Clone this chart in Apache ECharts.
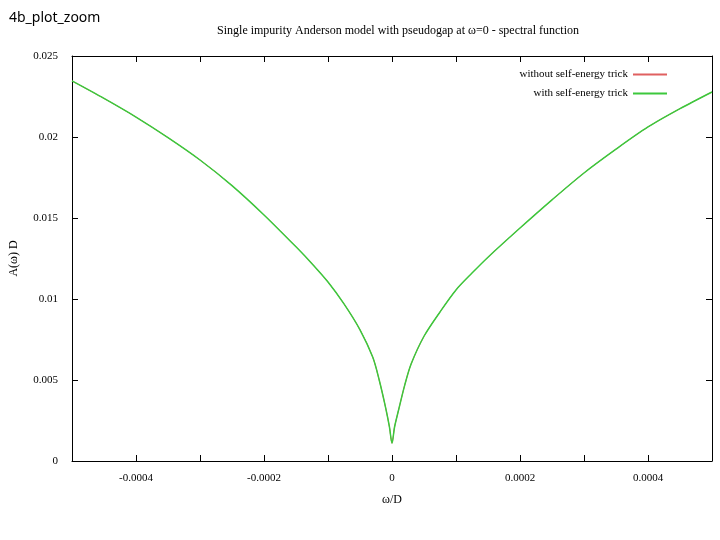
<!DOCTYPE html>
<html><head><meta charset="utf-8">
<script src="https://cdn.jsdelivr.net/npm/echarts@6/dist/echarts.min.js"></script>
<style>html,body{margin:0;padding:0;background:#fff}#c{width:720px;height:540px}</style>
</head><body><div id="c"></div>
<script>
const omega = [-0.0005,-0.00045,-0.0004,-0.00035,-0.0003,-0.00025,-0.0002,-0.00015,-0.000125,-0.0001,-0.000075,-0.00005,-0.00003,-0.00002,-0.00001,-0.000004,0,0.000004,0.00001,0.00002,0.00003,0.00005,0.000075,0.0001,0.000125,0.00015,0.0002,0.00025,0.0003,0.00035,0.0004,0.00045,0.0005];
const aWithout = [0.02346,0.02238,0.02123,0.01996,0.01858,0.01700,0.01519,0.01322,0.01218,0.01105,0.00970,0.0081,0.0064,0.0050,0.0033,0.0021,0.0011,0.0021,0.0031,0.0047,0.0060,0.0077,0.0092,0.01056,0.01160,0.01258,0.01438,0.01612,0.01778,0.01925,0.02062,0.02175,0.02278];
const aWith = aWithout.slice();
const xTicks = [-0.0004,-0.0002,0,0.0002,0.0004];
const serif = '"Liberation Serif", "DejaVu Serif", serif';
const pairs = a => omega.map((x,i)=>[x,a[i]]);
const chart = echarts.init(document.getElementById('c'));
const line = {show:true,onZero:false,lineStyle:{color:'#000',width:1}};
const tick = {show:true,inside:true,length:6,lineStyle:{color:'#000'}};
chart.setOption({
  animation:false,
  title:[{text:'Single impurity Anderson model with pseudogap at \u03c9=0 - spectral function',left:393,top:20,textAlign:'center',textStyle:{fontFamily:serif,fontSize:12,fontWeight:'normal',color:'#000'}},
         {text:'4b_plot_zoom',left:4,top:6,textStyle:{fontFamily:'"Noto Sans", sans-serif',fontSize:14,fontWeight:'normal',color:'#000'}}],
  legend:{right:48,top:64,orient:'vertical',align:'right',itemWidth:34,itemHeight:2,itemGap:8,icon:'rect',textStyle:{fontFamily:serif,fontSize:11,color:'#000'},data:['without self-energy trick','with self-energy trick']},
  grid:{left:72,right:8,top:56,bottom:79},
  xAxis:[{type:'value',min:-0.0005,max:0.0005,interval:0.0001,name:'\u03c9/D',nameLocation:'middle',nameGap:33,nameTextStyle:{fontFamily:serif,fontSize:12,color:'#000'},
          axisLine:line,axisTick:tick,splitLine:{show:false},
          axisLabel:{fontFamily:serif,fontSize:11,color:'#000',margin:12,formatter:v=>xTicks.some(t=>Math.abs(t-v)<1e-9)?(Math.abs(v)<1e-12?'0':String(+v.toFixed(4))):''}},
         {type:'value',position:'top',min:-0.0005,max:0.0005,interval:0.0001,axisLine:line,axisTick:tick,splitLine:{show:false},axisLabel:{show:false}}],
  yAxis:[{type:'value',min:0,max:0.025,interval:0.005,name:'A(\u03c9) D',nameLocation:'middle',nameGap:52,nameTextStyle:{fontFamily:serif,fontSize:12,color:'#000'},
          axisLine:line,axisTick:tick,splitLine:{show:false},
          axisLabel:{fontFamily:serif,fontSize:11,color:'#000',margin:14,formatter:v=>v===0?'0':String(+v.toFixed(3))}},
         {type:'value',position:'right',min:0,max:0.025,interval:0.005,axisLine:line,axisTick:tick,splitLine:{show:false},axisLabel:{show:false}}],
  series:[
    {name:'without self-energy trick',type:'line',data:pairs(aWithout),showSymbol:false,smooth:0.3,lineStyle:{color:'#e06060',width:1},itemStyle:{color:'#e06060'}},
    {name:'with self-energy trick',type:'line',data:pairs(aWith),showSymbol:false,smooth:0.3,lineStyle:{color:'#3cc83c',width:1.5},itemStyle:{color:'#3cc83c'}}
  ]
});
</script></body></html>
